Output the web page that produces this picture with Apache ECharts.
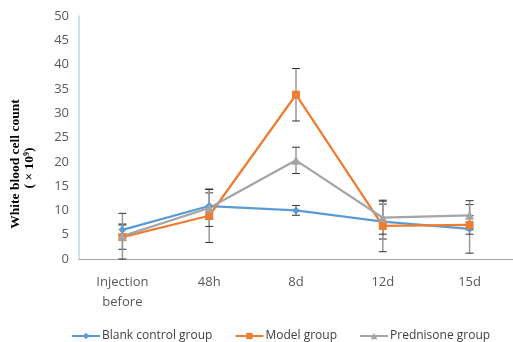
<!DOCTYPE html>
<html><head><meta charset="utf-8">
<script src="https://cdn.jsdelivr.net/npm/echarts@6/dist/echarts.min.js"></script>
<style>html,body{margin:0;padding:0;background:#fff}#c{width:513px;height:342px}</style>
</head><body><div id="c"></div>
<script>
const categories = ['Injection\nbefore', '48h', '8d', '12d', '15d'];
const blankValues = [6.0, 10.9, 10.0, 7.7, 6.2];
const modelValues = [4.5, 8.9, 33.8, 6.8, 7.0];
const predValues = [4.7, 10.5, 20.3, 8.5, 9.0];
const blankErr = [1.2, 2.7, 1.0, 3.6, 5.0];
const modelErr = [2.5, 5.5, 5.4, 5.3, 1.9];
const predErr = [4.7, 3.8, 2.7, 3.4, 3.0];
const seriesNames = ['Blank control group', 'Model group', 'Prednisone group'];
const yTicks = [0, 5, 10, 15, 20, 25, 30, 35, 40, 45, 50];
const yTitle = ['White blood cell count', '( × 10⁹)'];

const colors = ['#5B9BD5', '#ED7D31', '#A5A5A5'];

function errData(vals, errs) {
  return vals.map((v, i) => [i, v - errs[i], v + errs[i]]);
}
function errSeries(vals, errs) {
  return {
    type: 'custom',
    data: errData(vals, errs),
    z: 1,
    silent: true,
    renderItem: function (params, api) {
      const x = api.value(0);
      const lo = api.coord([x, api.value(1)]);
      const hi = api.coord([x, api.value(2)]);
      const w = 4;
      return {
        type: 'group',
        children: [
          { type: 'line', shape: { x1: lo[0], y1: lo[1], x2: hi[0], y2: hi[1] }, style: { stroke: '#999', lineWidth: 1.5 } },
          { type: 'line', shape: { x1: hi[0] - w, y1: hi[1], x2: hi[0] + w, y2: hi[1] }, style: { stroke: '#333', lineWidth: 1 } },
          { type: 'line', shape: { x1: lo[0] - w, y1: lo[1], x2: lo[0] + w, y2: lo[1] }, style: { stroke: '#333', lineWidth: 1 } }
        ]
      };
    }
  };
}

const titleFont = { fontFamily: 'Liberation Serif', fontWeight: 'bold', fontSize: 13.5, fill: '#000' };

const chart = echarts.init(document.getElementById('c'), null, { renderer: 'canvas' });
chart.setOption({
  animation: false,
  color: colors,
  grid: { left: 79, top: 16, bottom: 83, right: -9, containLabel: false },
  graphic: [
    { type: 'text', x: 16, y: 164, rotation: Math.PI / 2,
      style: Object.assign({ text: yTitle[0], align: 'center', verticalAlign: 'middle' }, titleFont) },
    { type: 'text', x: 30, y: 168, rotation: Math.PI / 2,
      style: Object.assign({ text: yTitle[1], align: 'center', verticalAlign: 'middle' }, titleFont) }
  ],
  legend: {
    top: 325,
    left: 66,
    width: 470,
    itemWidth: 28,
    itemHeight: 8,
    itemGap: 22,
    textStyle: { fontFamily: 'Open Sans', fontSize: 12, color: '#404040', padding: [0, 0, 0, -3] },
    data: seriesNames
  },
  xAxis: {
    type: 'category',
    data: categories,
    boundaryGap: true,
    axisLine: { lineStyle: { color: '#A6A6A6', width: 1 } },
    axisTick: { show: false },
    axisLabel: { margin: 13, fontFamily: 'Open Sans', fontSize: 13, color: '#595959', lineHeight: 20 }
  },
  yAxis: {
    type: 'value',
    min: yTicks[0],
    max: yTicks[yTicks.length - 1],
    interval: 5,
    axisLine: { show: true, lineStyle: { color: '#BDD7EE', width: 1.5 } },
    axisTick: { show: false },
    splitLine: { show: false },
    axisLabel: { margin: 10, fontFamily: 'Open Sans', fontSize: 13, color: '#595959' }
  },
  series: [
    errSeries(blankValues, blankErr),
    errSeries(modelValues, modelErr),
    errSeries(predValues, predErr),
    { name: seriesNames[0], type: 'line', data: blankValues, symbol: 'diamond', symbolSize: 8, z: 3,
      lineStyle: { width: 2.25, color: colors[0] }, itemStyle: { color: colors[0] } },
    { name: seriesNames[1], type: 'line', data: modelValues, symbol: 'rect', symbolSize: 8, z: 3,
      lineStyle: { width: 2.25, color: colors[1] }, itemStyle: { color: colors[1] } },
    { name: seriesNames[2], type: 'line', data: predValues, symbol: 'triangle', symbolSize: 9, z: 3,
      lineStyle: { width: 2.25, color: colors[2] }, itemStyle: { color: colors[2] } }
  ]
});
</script></body></html>
